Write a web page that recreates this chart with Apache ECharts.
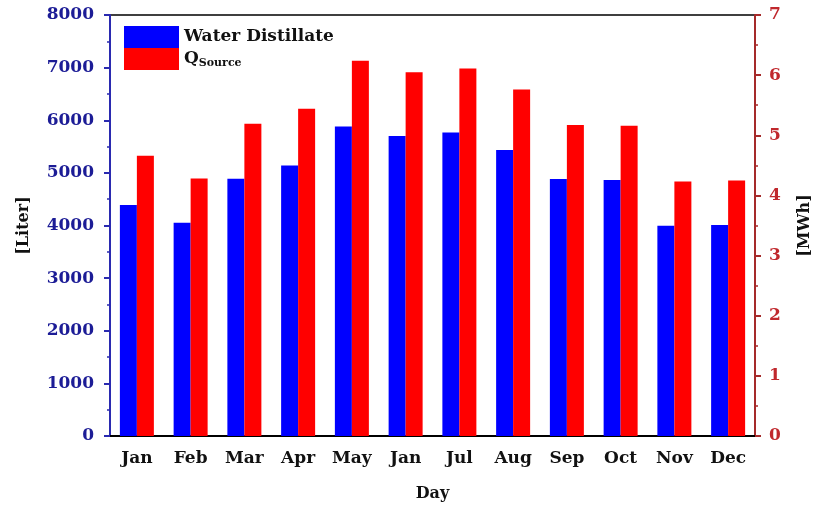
<!DOCTYPE html>
<html><head><meta charset="utf-8">
<script src="https://cdn.jsdelivr.net/npm/echarts@6/dist/echarts.min.js"></script>
<style>html,body{margin:0;padding:0;background:#fff}#c{width:814px;height:506px}</style>
</head><body><div id="c"></div>
<script>
var categories = ['Jan','Feb','Mar','Apr','May','Jan','Jul','Aug','Sep','Oct','Nov','Dec'];
var waterDistillate = [4390, 4050, 4890, 5140, 5880, 5700, 5765, 5435, 4885, 4865, 3995, 4010];
var qSource = [4.66, 4.28, 5.19, 5.44, 6.24, 6.05, 6.11, 5.76, 5.17, 5.16, 4.23, 4.25];
var leftTicks = {min: 0, max: 8000, interval: 1000};
var rightTicks = {min: 0, max: 7, interval: 1};

var FONT = '"DejaVu Serif", "Liberation Serif", serif';
var BLUE_TXT = '#1c1c96';
var RED_TXT = '#c0282d';
var chart = echarts.init(document.getElementById('c'));
chart.setOption({
  animation: false,
  textStyle: {fontFamily: FONT},
  grid: {left: 110, right: 59, top: 15, bottom: 70, outerBoundsMode: 'none', containLabel: false,
         show: true, borderColor: '#000', borderWidth: 1.5, backgroundColor: 'transparent'},
  legend: {
    orient: 'vertical', left: 119, top: 21, itemWidth: 55, itemHeight: 22, itemGap: 0,
    icon: 'rect',
    data: ['Water Distillate', 'QSource'],
    formatter: function (n) { return n === 'QSource' ? '{q|Q}{s|Source}' : '{w|' + n + '}'; },
    textStyle: {
      fontFamily: FONT, fontWeight: 'bold', fontSize: 17, color: '#111',
      rich: {
        w: {fontFamily: FONT, fontWeight: 'bold', fontSize: 17, color: '#111'},
        q: {fontFamily: FONT, fontWeight: 'bold', fontSize: 17, color: '#111'},
        s: {fontFamily: FONT, fontWeight: 'bold', fontSize: 11, color: '#111', padding: [8, 0, 0, 0]}
      }
    }
  },
  xAxis: [{
    type: 'category', data: categories, name: 'Day', nameLocation: 'middle', nameGap: 50,
    nameTextStyle: {fontFamily: FONT, fontWeight: 'bold', fontSize: 16, color: '#111'},
    axisLine: {lineStyle: {color: '#000', width: 2}},
    axisTick: {alignWithLabel: true, length: 6, lineStyle: {color: '#000', width: 2}},
    axisLabel: {fontFamily: FONT, fontWeight: 'bold', fontSize: 17, color: '#111', margin: 14, interval: 0}
  }, {
    type: 'category', data: categories, position: 'bottom',
    axisLine: {show: false},
    axisTick: {length: 3, lineStyle: {color: '#000', width: 1.5}},
    axisLabel: {show: false}
  }],
  yAxis: [{
    type: 'value', min: leftTicks.min, max: leftTicks.max, interval: leftTicks.interval,
    name: '[Liter]', nameLocation: 'middle', nameGap: 78, nameRotate: 90,
    nameTextStyle: {fontFamily: FONT, fontWeight: 'bold', fontSize: 16, color: '#111'},
    axisLine: {show: true, lineStyle: {color: '#2a2ab0', width: 2}},
    axisTick: {show: true, length: 6, lineStyle: {color: '#2a2ab0', width: 2}},
    minorTick: {show: true, splitNumber: 2, length: 3, lineStyle: {color: '#2a2ab0', width: 1.5}},
    splitLine: {show: false},
    axisLabel: {fontFamily: FONT, fontWeight: 'bold', fontSize: 17, color: BLUE_TXT, margin: 16,
                formatter: function (v) { return String(v); }}
  }, {
    type: 'value', min: rightTicks.min, max: rightTicks.max, interval: rightTicks.interval, position: 'right',
    name: '[MWh]', nameLocation: 'middle', nameGap: 42, nameRotate: 90,
    nameTextStyle: {fontFamily: FONT, fontWeight: 'bold', fontSize: 16, color: '#111'},
    axisLine: {show: true, lineStyle: {color: '#a52a2a', width: 2}},
    axisTick: {show: true, length: 6, lineStyle: {color: '#a52a2a', width: 2}},
    minorTick: {show: true, splitNumber: 2, length: 3, lineStyle: {color: '#a52a2a', width: 1.5}},
    splitLine: {show: false},
    axisLabel: {fontFamily: FONT, fontWeight: 'bold', fontSize: 17, color: RED_TXT, margin: 14,
                formatter: function (v) { return String(v); }}
  }],
  series: [{
    name: 'Water Distillate', type: 'bar', yAxisIndex: 0, data: waterDistillate,
    barWidth: 17, barGap: '0%', itemStyle: {color: '#0000ff'}
  }, {
    name: 'QSource', type: 'bar', yAxisIndex: 1, data: qSource,
    barWidth: 17, barGap: '0%', itemStyle: {color: '#ff0000'}
  }]
});
</script></body></html>
